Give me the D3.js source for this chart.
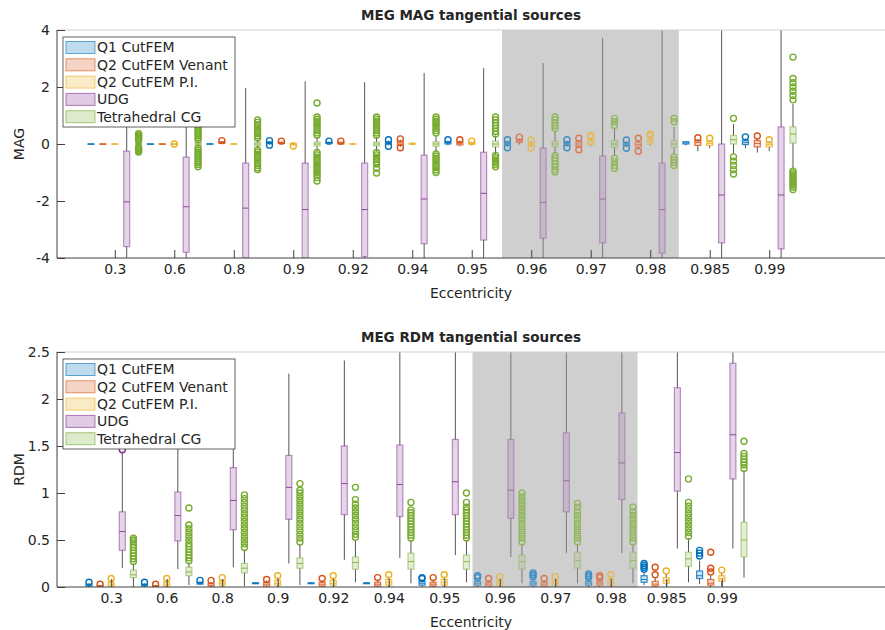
<!DOCTYPE html>
<html>
<head>
<meta charset="utf-8">
<script src="https://cdn.jsdelivr.net/npm/d3@7"></script>
<style>
body { margin: 0; background: #fff; }
text { font-family: "DejaVu Sans", sans-serif; fill: #262626; }
</style>
</head>
<body>
<div id="chart"></div>
<script>
var eccentricities = ['0.3', '0.6', '0.8', '0.9', '0.92', '0.94', '0.95', '0.96', '0.97', '0.98', '0.985', '0.99'];
var methods = ['Q1 CutFEM', 'Q2 CutFEM Venant', 'Q2 CutFEM P.I.', 'UDG', 'Tetrahedral CG'];
var colors = ['#0072BD', '#D95319', '#EDB120', '#7E2F8E', '#77AC30'];
var edgeOpacity = [0.8, 0.8, 0.8, 0.5, 0.5];
var magTicks = [-4, -2, 0, 2, 4];
var rdmTicks = [0, 0.5, 1, 1.5, 2, 2.5];

// each box: [lower whisker, q1, median, q3, upper whisker], one per eccentricity
var magQ1 = [[-0.01,-0.005,0,0.005,0.01],[-0.01,-0.005,0,0.005,0.01],[-0.02,-0.01,0,0.01,0.02],[-0.02,0.01,0.04,0.07,0.1],
             [0,0.02,0.04,0.06,0.08],[-0.05,0,0.04,0.08,0.12],[-0.05,0,0.04,0.08,0.12],[-0.1,-0.05,0.02,0.08,0.12],
             [-0.1,-0.05,0.02,0.08,0.12],[-0.12,-0.05,0,0.05,0.1],[-0.05,0,0.04,0.08,0.1],[-0.15,-0.02,0.05,0.12,0.2]];
var magVenant = [[-0.01,-0.005,0,0.005,0.01],[-0.01,-0.005,0,0.005,0.01],[0,0.02,0.05,0.08,0.1],[0,0.02,0.04,0.06,0.08],
                 [-0.02,0,0.03,0.06,0.08],[-0.1,-0.04,0.03,0.1,0.15],[-0.08,-0.03,0.03,0.08,0.12],[-0.02,0.05,0.1,0.15,0.2],
                 [-0.15,-0.08,0,0.08,0.15],[-0.2,-0.1,-0.02,0.06,0.15],[-0.25,-0.05,0.05,0.12,0.18],[-0.3,-0.1,0.02,0.12,0.2]];
var magPI = [[-0.01,-0.005,0,0.005,0.01],[-0.01,-0.005,0,0.005,0.01],[-0.03,-0.01,0,0.01,0.03],[-0.05,-0.02,0,0.02,0.04],
             [-0.03,-0.01,0,0.01,0.03],[-0.04,-0.01,0.01,0.03,0.05],[-0.05,-0.01,0.02,0.05,0.08],[-0.1,-0.05,0,0.05,0.1],
             [-0.08,-0.02,0.05,0.12,0.2],[-0.05,0,0.08,0.15,0.25],[-0.15,-0.05,0.02,0.08,0.12],[-0.25,-0.1,-0.02,0.05,0.1]];
var magUDG = [[-4.5,-3.6,-2.03,-0.25,1.8],[-4.5,-3.8,-2.2,-0.46,2.0],[-5,-4.0,-2.25,-0.67,1.96],[-5,-4.0,-2.3,-0.67,2.2],
              [-5,-3.95,-2.3,-0.67,2.17],[-4.5,-3.5,-1.93,-0.39,2.49],[-4.5,-3.37,-1.73,-0.29,2.66],[-4.5,-3.3,-2.05,-0.14,2.84],
              [-4.5,-3.47,-1.93,-0.42,3.72],[-4.5,-3.83,-2.3,-0.67,4.5],[-4.5,-3.47,-1.79,0.0,4.5],[-4.5,-3.68,-1.79,0.6,4.5]];
var magCG = [[-0.1,-0.04,0,0.04,0.1],[-0.12,-0.05,0,0.05,0.12],[-0.15,-0.05,0,0.05,0.15],[-0.25,-0.07,0,0.07,0.25],
             [-0.25,-0.07,0,0.07,0.25],[-0.3,-0.08,0,0.08,0.3],[-0.35,-0.1,0,0.1,0.3],[-0.35,-0.1,0,0.1,0.45],
             [-0.42,-0.12,0,0.12,0.55],[-0.38,-0.12,0,0.12,0.6],[-0.35,0.0,0.15,0.3,0.7],[-0.85,0.03,0.35,0.6,1.4]];

var magQ1Out = [[],[],[],[0.12,-0.04],[0.1],[0.15,-0.08],[0.15],[0.15,-0.13],[0.15,-0.13],[0.14,-0.15],[],[0.25]];
var magVenantOut = [[],[],[0.12],[0.1],[0.1],[0.18,-0.13],[0.15],[0.24],[0.2,-0.2],[0.2,-0.25],[0.22],[0.28]];
var magPIOut = [[],[0],[],[-0.07],[],[],[0.1],[0.13,-0.13],[0.25,0.3],[0.3,0.35],[0.2],[0.15]];
var magUDGOut = [[],[],[],[],[],[],[],[],[],[],[],[]];
var magCGOut = [
  [0.36,0.32,0.28,0.24,0.2,0.16,0.12,-0.12,-0.16,-0.2,-0.24,-0.28],
  [0.65,0.58,0.5,0.43,0.36,0.29,0.22,0.15,-0.15,-0.22,-0.29,-0.36,-0.43,-0.5,-0.58,-0.65,-0.72,-0.8],
  [0.84,0.76,0.68,0.6,0.52,0.44,0.36,0.28,0.2,-0.2,-0.28,-0.36,-0.44,-0.52,-0.6,-0.68,-0.76,-0.84,-0.9],
  [1.44,0.95,0.87,0.79,0.71,0.63,0.55,0.47,0.39,0.31,-0.3,-0.38,-0.46,-0.54,-0.62,-0.7,-0.78,-0.86,-0.94,-1.02,-1.1,-1.18,-1.3],
  [0.95,0.87,0.79,0.71,0.63,0.55,0.47,0.39,0.31,-0.3,-0.38,-0.46,-0.54,-0.62,-0.7,-0.85,-1.02],
  [0.95,0.87,0.79,0.71,0.63,0.55,0.47,0.39,-0.35,-0.43,-0.51,-0.59,-0.67,-0.75,-0.83,-0.91,-1.0],
  [0.95,0.85,0.75,0.65,0.55,0.45,0.35,-0.4,-0.48,-0.56,-0.64,-0.72,-0.8],
  [0.95,0.85,0.75,0.65,0.55,-0.4,-0.5,-0.6,-0.7,-0.8,-0.9,-0.98],
  [0.9,0.78,0.65,-0.5,-0.62,-0.75,-0.85],
  [0.9,0.78,-0.45,-0.55,-0.65,-0.75],
  [0.9,-0.45,-0.6,-0.75,-0.9,-1.05],
  [3.05,2.3,2.15,2.0,1.85,1.7,1.55,-0.95,-1.02,-1.09,-1.16,-1.23,-1.3,-1.37,-1.44,-1.51,-1.6]];

var rdmQ1 = [[0,0.01,0.02,0.03,0.04],[0,0.01,0.02,0.03,0.04],[0.02,0.03,0.04,0.05,0.06],[0.03,0.035,0.04,0.045,0.05],
             [0.03,0.035,0.04,0.045,0.05],[0.03,0.035,0.04,0.045,0.05],[0,0.02,0.04,0.06,0.08],[0,0.02,0.04,0.06,0.08],
             [0,0.02,0.04,0.06,0.09],[0,0.02,0.04,0.06,0.08],[0.02,0.05,0.08,0.12,0.16],[0.03,0.09,0.12,0.17,0.28]];
var rdmVenant = [[0,0.005,0.01,0.015,0.02],[0,0.005,0.01,0.015,0.02],[0,0.01,0.02,0.04,0.05],[0,0.01,0.03,0.05,0.07],
                 [0,0.01,0.03,0.05,0.07],[0,0.01,0.03,0.05,0.08],[0,0.01,0.03,0.05,0.08],[0,0.01,0.03,0.05,0.07],
                 [0,0.01,0.03,0.05,0.07],[0,0.02,0.04,0.06,0.08],[0,0.01,0.03,0.06,0.1],[0,0.02,0.04,0.08,0.12]];
var rdmPI = [[0,0.01,0.03,0.05,0.07],[0,0.01,0.03,0.05,0.07],[0,0.02,0.04,0.06,0.08],[0,0.02,0.04,0.07,0.1],
             [0,0.02,0.04,0.07,0.1],[0,0.02,0.05,0.08,0.11],[0,0.02,0.05,0.08,0.11],[0,0.02,0.04,0.07,0.09],
             [0,0.02,0.04,0.07,0.09],[0,0.02,0.05,0.08,0.11],[0.01,0.04,0.07,0.1,0.14],[0.01,0.06,0.09,0.12,0.15]];
var rdmUDG = [[0.2,0.39,0.59,0.8,1.44],[0.19,0.49,0.76,1.01,1.7],[0.21,0.61,0.92,1.27,2.0],[0.25,0.72,1.06,1.4,2.27],
              [0.29,0.77,1.1,1.5,2.41],[0.31,0.75,1.09,1.51,2.6],[0.34,0.77,1.12,1.57,2.7],[0.32,0.73,1.03,1.57,2.7],
              [0.36,0.8,1.13,1.64,2.7],[0.36,0.93,1.32,1.85,2.7],[0.41,1.02,1.43,2.12,2.8],[0.41,1.15,1.62,2.38,2.8]];
var rdmCG = [[0,0.1,0.13,0.18,0.25],[0.02,0.12,0.16,0.21,0.26],[0.01,0.15,0.2,0.25,0.4],[0.02,0.2,0.25,0.31,0.46],
             [0.05,0.19,0.26,0.32,0.5],[0.04,0.19,0.27,0.36,0.5],[0.05,0.19,0.27,0.34,0.5],[0.04,0.19,0.27,0.34,0.46],
             [0.04,0.2,0.28,0.37,0.46],[0.04,0.2,0.28,0.37,0.46],[0.05,0.22,0.3,0.37,0.52],[0.1,0.32,0.5,0.69,1.24]];

var rdmQ1Out = [[0.05],[0.05],[0.07],[],[],[],[0.09,0.1],[0.1,0.12],[0.11,0.13,0.15],[0.1,0.12,0.14],[0.19,0.21,0.23,0.25],[0.33,0.36,0.39]];
var rdmVenantOut = [[0.03],[0.03],[0.07],[0.08],[0.09],[0.1],[0.1],[0.09],[0.09],[0.1,0.12],[0.13,0.21],[0.16,0.2,0.37]];
var rdmPIOut = [[0.09],[0.09],[0.1],[0.12],[0.12],[0.13],[0.13],[0.11],[0.11],[0.13],[0.17],[0.18]];
var rdmUDGOut = [[1.46],[],[],[],[],[],[],[],[],[],[],[]];
var rdmCGOut = [
  [0.27,0.3,0.33,0.36,0.39,0.42,0.45,0.48,0.5,0.52],
  [0.28,0.31,0.34,0.37,0.4,0.43,0.46,0.5,0.54,0.58,0.62,0.66,0.84],
  [0.42,0.46,0.5,0.54,0.58,0.62,0.66,0.7,0.74,0.78,0.82,0.86,0.9,0.94,0.98],
  [0.48,0.52,0.56,0.6,0.64,0.68,0.72,0.76,0.8,0.84,0.88,0.92,0.96,1.0,1.03,1.1],
  [0.53,0.56,0.6,0.64,0.68,0.72,0.76,0.8,0.84,0.88,0.93,1.06],
  [0.52,0.55,0.58,0.61,0.64,0.67,0.7,0.73,0.76,0.79,0.82,0.9],
  [0.52,0.55,0.58,0.61,0.64,0.67,0.7,0.73,0.76,0.79,0.82,0.85,0.9,1.0],
  [0.48,0.52,0.56,0.6,0.64,0.68,0.72,0.76,0.8,0.84,0.88,0.92,0.96,1.0],
  [0.48,0.52,0.56,0.6,0.64,0.68,0.72,0.76,0.8,0.85,0.89],
  [0.48,0.52,0.56,0.6,0.64,0.68,0.72,0.76,0.8,0.85],
  [0.54,0.58,0.62,0.66,0.7,0.74,0.78,0.82,0.86,0.9,1.15],
  [1.26,1.3,1.33,1.36,1.39,1.42,1.55]];

// shaded band, in box-slot units (0.96 .. 0.98 groups)
var shadeSlots = [34.55, 49.4];

var svg = d3.select('#chart').append('svg')
  .attr('width', 885)
  .attr('height', 630);

draw_panel({
  top: 30, bottom: 258, left: 57, right: 885, firstSlot: 91, lastSlot: 793,
  yDomain: [-4, 4], yTicks: magTicks, title: 'MEG MAG tangential sources', ylabel: 'MAG',
  stats: [magQ1, magVenant, magPI, magUDG, magCG],
  outliers: [magQ1Out, magVenantOut, magPIOut, magUDGOut, magCGOut],
  clipId: 'clipMag'
});
draw_panel({
  top: 352, bottom: 587, left: 57, right: 885, firstSlot: 89, lastSlot: 744,
  yDomain: [0, 2.5], yTicks: rdmTicks, title: 'MEG RDM tangential sources', ylabel: 'RDM',
  stats: [rdmQ1, rdmVenant, rdmPI, rdmUDG, rdmCG],
  outliers: [rdmQ1Out, rdmVenantOut, rdmPIOut, rdmUDGOut, rdmCGOut],
  clipId: 'clipRdm'
});

function draw_panel(p){
    var nSlots = eccentricities.length * methods.length;
    var x = d3.scaleLinear().domain([0, nSlots - 1]).range([p.firstSlot, p.lastSlot]);
    var y = d3.scaleLinear().domain(p.yDomain).range([p.bottom, p.top]);
    var g = svg.append('g');

    g.append('clipPath').attr('id', p.clipId)
      .append('rect')
      .attr('x', p.left).attr('y', p.top)
      .attr('width', p.right - p.left).attr('height', p.bottom - p.top);

    var plot = g.append('g').attr('clip-path', 'url(#' + p.clipId + ')');

    // grey band behind the boxes
    plot.append('rect')
      .attr('x', x(shadeSlots[0])).attr('y', p.top)
      .attr('width', x(shadeSlots[1]) - x(shadeSlots[0]))
      .attr('height', p.bottom - p.top)
      .attr('fill', '#cfcfcf');

    var rows = [];
    eccentricities.forEach(function(e, k){
        methods.forEach(function(m, j){
            rows.push({slot: k * methods.length + j, s: p.stats[j][k], out: p.outliers[j][k], c: colors[j], eo: edgeOpacity[j]});
        });
    });

    var bw = 6;
    var box = plot.selectAll('g.box')
      .data(rows)
      .enter()
      .append('g')
      .attr('class', 'box');

    box.append('line')
      .attr('x1', d => x(d.slot)).attr('x2', d => x(d.slot))
      .attr('y1', d => y(d.s[0])).attr('y2', d => y(d.s[1]))
      .attr('stroke', '#555').attr('stroke-width', 1);
    box.append('line')
      .attr('x1', d => x(d.slot)).attr('x2', d => x(d.slot))
      .attr('y1', d => y(d.s[3])).attr('y2', d => y(d.s[4]))
      .attr('stroke', '#555').attr('stroke-width', 1);
    box.append('rect')
      .attr('x', d => x(d.slot) - bw / 2)
      .attr('y', d => y(d.s[3]))
      .attr('width', bw)
      .attr('height', d => Math.max(y(d.s[1]) - y(d.s[3]), 0.5))
      .attr('fill', d => d.c).attr('fill-opacity', 0.2)
      .attr('stroke', d => d.c).attr('stroke-opacity', d => d.eo).attr('stroke-width', 1.2);
    box.append('line')
      .attr('x1', d => x(d.slot) - bw / 2).attr('x2', d => x(d.slot) + bw / 2)
      .attr('y1', d => y(d.s[2])).attr('y2', d => y(d.s[2]))
      .attr('stroke', d => d.c).attr('stroke-opacity', 0.85).attr('stroke-width', 1);

    box.selectAll('circle')
      .data(d => d.out.map(v => ({v: v, slot: d.slot, c: d.c})))
      .enter()
      .append('circle')
      .attr('cx', d => x(d.slot))
      .attr('cy', d => y(d.v))
      .attr('r', 3)
      .attr('fill', 'none')
      .attr('stroke', d => d.c)
      .attr('stroke-width', 1.4);

    // light veil over the band, mutes the marks inside it
    plot.append('rect')
      .attr('x', x(shadeSlots[0])).attr('y', p.top)
      .attr('width', x(shadeSlots[1]) - x(shadeSlots[0]))
      .attr('height', p.bottom - p.top)
      .attr('fill', '#cfcfcf').attr('fill-opacity', 0.3);

    // top edge of the axes box
    g.append('line')
      .attr('x1', p.left).attr('x2', p.right)
      .attr('y1', p.top).attr('y2', p.top)
      .attr('stroke', '#d0d0d0');

    var groupTicks = eccentricities.map((e, k) => k * methods.length + 2);
    var xAxis = g.append('g')
      .attr('transform', 'translate(0,' + p.bottom + ')')
      .call(d3.axisBottom(x).tickValues(groupTicks)
        .tickFormat((d, i) => eccentricities[i]).tickSize(-8).tickPadding(6));
    var yAxis = g.append('g')
      .attr('transform', 'translate(' + p.left + ',0)')
      .call(d3.axisLeft(y).tickValues(p.yTicks)
        .tickFormat(d => String(d)).tickSize(-8).tickPadding(7));
    [xAxis, yAxis].forEach(function(a){
        a.select('.domain').remove();
        a.selectAll('line').attr('stroke', '#404040');
        a.selectAll('text').attr('font-size', '14px').attr('fill', '#333')
          .attr('font-family', '"DejaVu Sans", sans-serif');
    });
    g.append('line')
      .attr('x1', p.left).attr('x2', p.right)
      .attr('y1', p.bottom).attr('y2', p.bottom)
      .attr('stroke', '#404040');
    g.append('line')
      .attr('x1', p.left).attr('x2', p.left)
      .attr('y1', p.top).attr('y2', p.bottom)
      .attr('stroke', '#404040');

    g.append('text')
      .attr('x', (p.left + p.right) / 2).attr('y', p.top - 10)
      .attr('text-anchor', 'middle')
      .attr('font-size', '13.5px').attr('font-weight', 'bold')
      .text(p.title);
    g.append('text')
      .attr('x', (p.left + p.right) / 2).attr('y', p.bottom + 40)
      .attr('text-anchor', 'middle')
      .attr('font-size', '14px')
      .text('Eccentricity');
    g.append('text')
      .attr('transform', 'translate(24,' + (p.top + p.bottom) / 2 + ') rotate(-90)')
      .attr('text-anchor', 'middle')
      .attr('font-size', '14px')
      .text(p.ylabel);

    // legend
    var leg = g.append('g').attr('transform', 'translate(' + (p.left + 6) + ',' + (p.top + 7) + ')');
    leg.append('rect')
      .attr('width', 172).attr('height', 90)
      .attr('fill', '#fff').attr('stroke', '#3a3a3a').attr('stroke-width', 0.8);
    var item = leg.selectAll('g.item')
      .data(methods)
      .enter()
      .append('g')
      .attr('class', 'item')
      .attr('transform', (d, i) => 'translate(0,' + (10.5 + i * 17.3) + ')');
    item.append('rect')
      .attr('x', 3).attr('y', -6).attr('width', 29).attr('height', 12)
      .attr('fill', (d, i) => colors[i]).attr('fill-opacity', 0.25)
      .attr('stroke', (d, i) => colors[i]).attr('stroke-opacity', 0.6);
    item.append('text')
      .attr('x', 34).attr('dy', '0.35em')
      .attr('font-size', '14px')
      .text(d => d);
}
</script>
</body>
</html>
